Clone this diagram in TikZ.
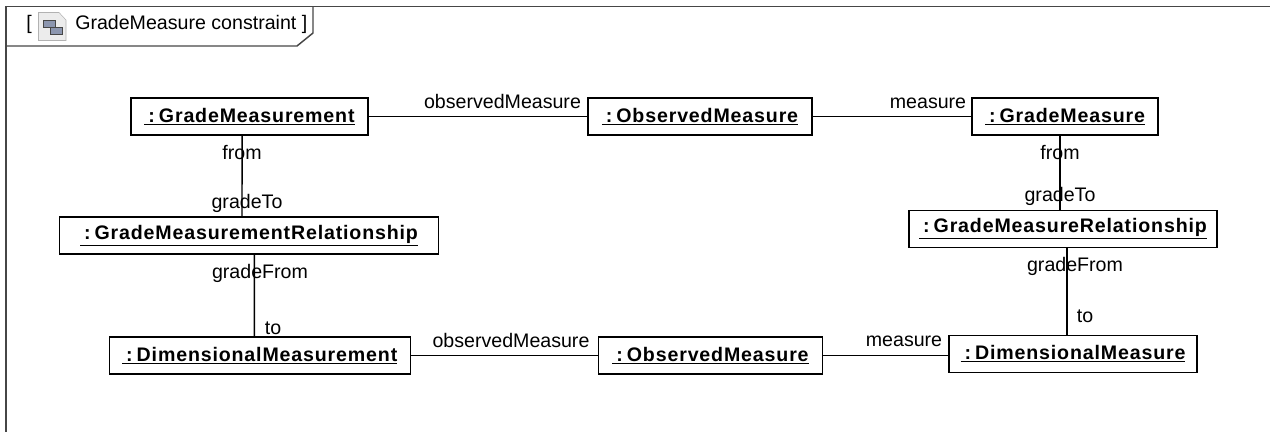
\documentclass[tikz,border=0pt]{standalone}
\usepackage{fontspec}
\setmainfont{Liberation Sans}
\usepackage{tikz}
\definecolor{framegray}{RGB}{70,70,70}
\definecolor{iconblue}{RGB}{140,150,175}
\newcommand{\objname}[1]{\underline{\hspace{3pt}:\hspace{3pt}#1}}
\newfontfamily\objfont[LetterSpace=4.3]{Liberation Sans Bold}
\tikzset{
	objbox/.style={draw,line width=1.1pt,inner sep=0pt,font=\objfont\fontsize{14.7}{16}\selectfont},
	link/.style={line width=1.1pt},
	rolelabel/.style={font=\fontsize{14.7}{16}\selectfont,inner sep=0pt}
}

\begin{document}
\begin{tikzpicture}[x=0.75pt,y=-0.75pt]
	\useasboundingbox (0,0) rectangle (1270,432);
	% frame
	\draw[framegray,line width=1.3pt] (1270,6.5) -- (6,6.5) -- (6,432);
	\draw[framegray,line width=1.1pt] (6,46) -- (297,46) -- (313,33) -- (313,6.5);
	% tab icon
	\draw[gray!60,fill=gray!15] (38.5,12.5) -- (59,12.5) -- (66,20) -- (66,40.5) -- (38.5,40.5) -- cycle;
	\draw[framegray,fill=iconblue] (43,20) rectangle (55,27.5);
	\draw[framegray,fill=iconblue] (50.5,27.5) rectangle (62.5,34.5);
	\node[rolelabel,anchor=west] (title) at (26,24) {[};
	\node[rolelabel,anchor=west] (titletext) at (75,24) {GradeMeasure constraint ]};
	% objects
	\node[objbox,minimum width=177.75pt,minimum height=27.75pt] (gradeMeasurement) at (249.5,116.5) {\objname{GradeMeasurement}};
	\node[objbox,minimum width=168pt,minimum height=27.75pt] (observedTop) at (700,116.5) {\objname{ObservedMeasure}};
	\node[objbox,minimum width=139.5pt,minimum height=27.75pt] (gradeMeasure) at (1065,116.5) {\objname{GradeMeasure}};
	\node[objbox,minimum width=284pt,minimum height=27.75pt] (gradeMeasurementRel) at (249,235.5) {\objname{GradeMeasurementRelationship}};
	\node[objbox,minimum width=231pt,minimum height=27.75pt] (gradeMeasureRel) at (1063,229) {\objname{GradeMeasureRelationship}};
	\node[objbox,minimum width=225.75pt,minimum height=27.75pt] (dimMeasurement) at (259.75,355.5) {\objname{DimensionalMeasurement}};
	\node[objbox,minimum width=168pt,minimum height=27.75pt] (observedBottom) at (710.5,355.5) {\objname{ObservedMeasure}};
	\node[objbox,minimum width=186pt,minimum height=27.75pt] (dimMeasure) at (1073,354) {\objname{DimensionalMeasure}};
	% links
	\draw[link] (gradeMeasurement) -- (observedTop);
	\draw[link] (observedTop) -- (gradeMeasure);
	\draw[link] (dimMeasurement.east |- observedBottom.west) -- (observedBottom.west);
	\draw[link] (observedBottom.east) -- (dimMeasure.west |- observedBottom.east);
	\draw[link] ([xshift=-5.6pt]gradeMeasurement.south) -- ([xshift=-5.25pt]gradeMeasurementRel.north);
	\draw[link] ([xshift=4pt]gradeMeasurementRel.south) -- ([xshift=-4.1pt]dimMeasurement.north);
	\draw[link] ([xshift=-3.75pt]gradeMeasure.south) -- ([xshift=-2.25pt]gradeMeasureRel.north);
	\draw[link] ([xshift=3pt]gradeMeasureRel.south) -- ([xshift=-4.5pt]dimMeasure.north);
	% role labels
	\node[rolelabel] (l1) at (502.5,101) {observedMeasure};
	\node[rolelabel] (l2) at (928,103) {measure};
	\node[rolelabel] (l3) at (242,153) {from};
	\node[rolelabel] (l4) at (247,203) {gradeTo};
	\node[rolelabel] (l5) at (260,273) {gradeFrom};
	\node[rolelabel] (l6) at (273,328) {to};
	\node[rolelabel] (l7) at (511,340) {observedMeasure};
	\node[rolelabel] (l8) at (904,341) {measure};
	\node[rolelabel] (l9) at (1060,153) {from};
	\node[rolelabel] (l10) at (1060,196) {gradeTo};
	\node[rolelabel] (l11) at (1075,266) {gradeFrom};
	\node[rolelabel] (l12) at (1085,316) {to};
\end{tikzpicture}
\end{document}
